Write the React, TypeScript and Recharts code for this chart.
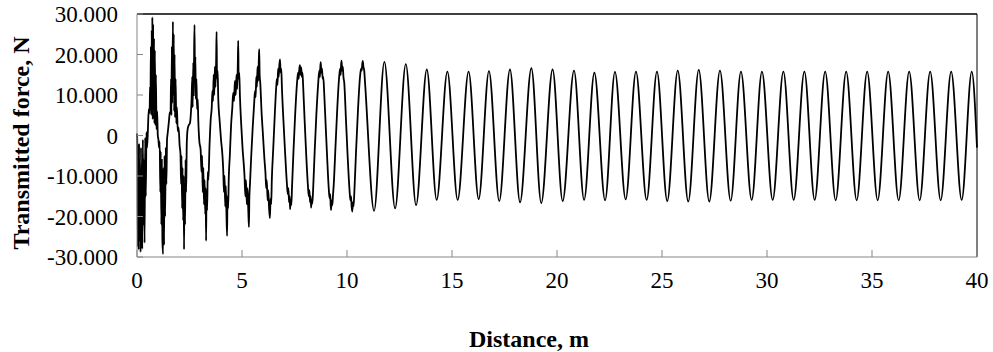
import { LineChart, Line, XAxis, YAxis, ReferenceLine, Label } from "recharts";

// [distance (m), transmitted force (N)]
const startup: [number, number][] = [
  [0.0, 500], [0.02, -4000], [0.04, -27500], [0.06, -6000], [0.08, -28200], [0.1, -2000],
  [0.12, -26000], [0.14, -9000], [0.17, -28800], [0.19, -3000], [0.21, -27000], [0.23, -12000],
  [0.25, -28000], [0.28, -1000], [0.3, -22000], [0.33, -6000], [0.36, -26500], [0.39, -500],
  [0.42, -15000], [0.45, 800], [0.48, -3000],
  [0.52, 1500], [0.56, 6500], [0.6, 5500],
  [0.62, 12000], [0.64, 7000], [0.66, 22000], [0.68, 5000], [0.7, 26000], [0.72, 9000],
  [0.73, 29200], [0.75, 4000], [0.77, 27500], [0.79, 8000], [0.81, 24000], [0.83, 3000],
  [0.85, 21000], [0.88, 2500], [0.9, 15000], [0.93, 1500], [0.96, 6000], [0.99, 0],
  [1.02, -1000], [1.05, -3000], [1.08, -1500], [1.11, -14000], [1.13, -4000], [1.16, -22000],
  [1.18, -6000], [1.21, -26000], [1.24, -29300], [1.26, -8000], [1.29, -27000], [1.31, -5000],
  [1.34, -20000], [1.37, -3000], [1.4, -12000], [1.43, -1000], [1.46, 500],
  [1.51, 3000], [1.56, 5500], [1.6, 6000],
  [1.62, 14000], [1.64, 5000], [1.66, 22000], [1.68, 8000], [1.71, 28100], [1.73, 10000],
  [1.75, 25000], [1.77, 6000], [1.79, 20000], [1.81, 4500], [1.84, 14000], [1.87, 3000],
  [1.9, 7000], [1.94, 1000], [1.98, 2000],
  [2.03, -2500], [2.07, -4500],
  [2.1, -12000], [2.12, -5000], [2.15, -18000], [2.17, -8000], [2.2, -21000], [2.22, -10000],
  [2.24, -28100], [2.26, -12000], [2.29, -22000], [2.31, -6000], [2.34, -14000], [2.37, -2000],
  [2.41, 1500], [2.46, 2500],
];

const decayA: [number, number][] = [
  [2.52, 3000], [2.56, 5000], [2.6, 9000], [2.63, 14500], [2.65, 7000], [2.68, 18000],
  [2.7, 10000], [2.72, 21000], [2.74, 27300], [2.76, 13000], [2.78, 19500], [2.8, 9000],
  [2.83, 14000], [2.86, 6500], [2.89, 9000], [2.92, 3500],
  [2.97, -1500], [3.03, -3500],
  [3.07, -9000], [3.1, -5000], [3.13, -14000], [3.16, -8000], [3.19, -17000], [3.22, -11000],
  [3.25, -19500], [3.27, -13000], [3.29, -26000], [3.31, -14000], [3.34, -18500], [3.37, -9000],
  [3.4, -11000],
  [3.45, -3000], [3.51, 4000], [3.56, 7000],
  [3.59, 11000], [3.62, 8500], [3.65, 15000], [3.68, 10000], [3.71, 17000], [3.74, 12000],
  [3.77, 19000], [3.79, 25600], [3.81, 14000], [3.84, 16000], [3.87, 9000],
  [3.93, 4000], [4.0, -1000], [4.07, -5000],
  [4.11, -9000], [4.14, -14000], [4.17, -10000], [4.2, -17500], [4.23, -12500], [4.26, -19500],
  [4.29, -24800], [4.31, -15000], [4.34, -18000], [4.37, -10500],
  [4.42, -5000], [4.48, 2500], [4.54, 7000],
  [4.58, 10500], [4.62, 8500], [4.66, 13500], [4.7, 10000], [4.74, 15000], [4.77, 11500],
  [4.8, 17500], [4.82, 23400], [4.84, 14000], [4.87, 15500], [4.9, 10000],
  [4.96, 3000], [5.03, -3500], [5.09, -7500],
];

const decayB: [number, number][] = [
  [5.12, -10000], [5.16, -15000], [5.19, -11000], [5.23, -17000], [5.26, -13000], [5.3, -18500],
  [5.33, -22600], [5.35, -15500], [5.38, -12000],
  [5.44, -5000], [5.51, 2000], [5.58, 8000],
  [5.62, 11000], [5.65, 9500], [5.68, 14500], [5.71, 12000], [5.74, 17000], [5.77, 13500],
  [5.8, 18500], [5.82, 21300], [5.84, 15000], [5.87, 13000],
  [5.93, 6000], [6.0, 0], [6.07, -6000], [6.12, -9500],
  [6.15, -13000], [6.18, -11000], [6.22, -16000], [6.25, -13500], [6.29, -18000], [6.33, -20400],
  [6.36, -15500], [6.39, -17000], [6.42, -11000],
  [6.49, -3000], [6.56, 5000], [6.63, 12000],
  [6.66, 14000], [6.69, 12500], [6.72, 16500], [6.75, 14500], [6.78, 17500], [6.81, 18800],
  [6.84, 15500], [6.87, 16500], [6.9, 12000],
  [6.97, 4000], [7.05, -4000], [7.14, -12000],
  [7.18, -14500], [7.21, -13000], [7.24, -16500], [7.27, -15000], [7.29, -18200], [7.32, -16000],
  [7.35, -17200], [7.38, -13000],
  [7.45, -4000], [7.53, 5000], [7.62, 13000],
  [7.67, 15500], [7.7, 14000], [7.73, 16500], [7.76, 17400], [7.79, 15000], [7.82, 16800],
  [7.85, 14500], [7.88, 15500], [7.91, 12500],
  [7.98, 4000],
];

const decayC: [number, number][] = [
  [8.06, -5000], [8.14, -12500],
  [8.18, -15000], [8.21, -13500], [8.24, -16500], [8.27, -15000], [8.29, -17800], [8.32, -16000],
  [8.35, -16800], [8.39, -13000],
  [8.46, -4000], [8.54, 5000], [8.63, 13000],
  [8.68, 16000], [8.71, 14500], [8.73, 17000], [8.75, 18100], [8.78, 15500], [8.81, 16500],
  [8.84, 14000], [8.87, 14500], [8.91, 11000],
  [8.98, 3000], [9.06, -6000], [9.13, -13000],
  [9.17, -15500], [9.2, -14500], [9.22, -17000], [9.24, -18400], [9.27, -16000], [9.3, -17200],
  [9.33, -15000], [9.37, -12000],
  [9.45, -3000], [9.53, 6000], [9.62, 14000],
  [9.67, 16500], [9.7, 15000], [9.72, 17500], [9.74, 18500], [9.77, 16000], [9.8, 17000],
  [9.83, 14500], [9.87, 13000],
  [9.95, 4000], [10.03, -5000], [10.12, -13500],
  [10.16, -16000], [10.19, -15000], [10.22, -17500], [10.25, -18800], [10.28, -16500],
  [10.31, -17500], [10.35, -14000],
  [10.43, -4000], [10.52, 6000], [10.62, 14500],
  [10.67, 16500], [10.7, 16000], [10.73, 17800], [10.75, 18400], [10.78, 17000], [10.82, 16000],
  [10.86, 13000],
];

// crests and troughs of the settled oscillation
const steady: [number, number][] = [
  [11.29, -18600], [11.78, 18200], [12.29, -18000], [12.8, 17600], [13.29, -17200], [13.8, 16300],
  [14.27, -15900], [14.78, 15750], [15.27, -15900], [15.79, 15750], [16.27, -15700], [16.76, 15900],
  [17.25, -16200], [17.76, 16300], [18.24, -16500], [18.78, 16600], [19.25, -16700], [19.79, 16300],
  [20.27, -16200], [20.81, 16000], [21.29, -15900], [21.78, 15500], [22.29, -16000], [22.76, 15700],
  [23.27, -15750], [23.76, 15750], [24.27, -15900], [24.76, 15750], [25.25, -16200], [25.75, 16000],
  [26.25, -16300], [26.75, 16200], [27.25, -16300], [27.76, 16000], [28.27, -16100], [28.76, 15750],
  [29.27, -15900], [29.76, 15750], [30.27, -15900], [30.78, 15750], [31.27, -15900], [31.78, 15750],
  [32.27, -15900], [32.77, 15750], [33.27, -16000], [33.77, 15750], [34.27, -16000], [34.77, 15750],
  [35.27, -16000], [35.77, 15750], [36.27, -16000], [36.77, 15750], [37.27, -16000], [37.77, 15750],
  [38.27, -16000], [38.77, 15750], [39.27, -15900], [39.75, 15750], [40.0, -3000],
];

const xTicks = [0, 5, 10, 15, 20, 25, 30, 35, 40];
const yTicks = [-30000, -20000, -10000, 0, 10000, 20000, 30000];

const data = [...startup, ...decayA, ...decayB, ...decayC, ...steady].map(([d, f]) => ({ d, f }));

const font = "'Liberation Serif', 'Times New Roman', serif";
const tickStyle = { fontFamily: font, fontSize: 23, fill: "#000" };
const axisGray = "#868686";

const fmtForce = (v: number) => (v === 0 ? "0" : `${v / 1000}.000`);

export default function App() {
  return (
    <div style={{ position: "absolute", left: 0, top: 0, background: "#fff" }}>
      <LineChart width={993} height={352} data={data} margin={{ top: 14, right: 16, bottom: 0, left: 0 }}>
        <XAxis
          dataKey="d"
          type="number"
          domain={[0, 40]}
          ticks={xTicks}
          height={95}
          stroke={axisGray}
          tickSize={-7}
          tickMargin={22}
          tick={tickStyle}
        >
          <Label
            content={() => (
              <text x={529} y={347} textAnchor="middle" fontFamily={font} fontSize={24} fontWeight="bold" fill="#000">
                Distance, m
              </text>
            )}
          />
        </XAxis>
        <YAxis
          type="number"
          domain={[-30000, 30000]}
          ticks={yTicks}
          width={137}
          stroke={axisGray}
          tickSize={-6}
          tickMargin={25}
          tick={tickStyle}
          tickFormatter={fmtForce}
        >
          <Label
            content={() => (
              <text
                x={29}
                y={143}
                transform="rotate(-90, 29, 143)"
                textAnchor="middle"
                fontFamily={font}
                fontSize={24}
                fontWeight="bold"
                fill="#000"
              >
                Transmitted force, N
              </text>
            )}
          />
        </YAxis>
        <ReferenceLine y={30000} stroke="#000" strokeWidth={1.5} />
        <ReferenceLine x={40} stroke="#000" />
        <Line type="monotone" dataKey="f" stroke="#000" strokeWidth={1.8} dot={false} isAnimationActive={false} />
      </LineChart>
    </div>
  );
}
